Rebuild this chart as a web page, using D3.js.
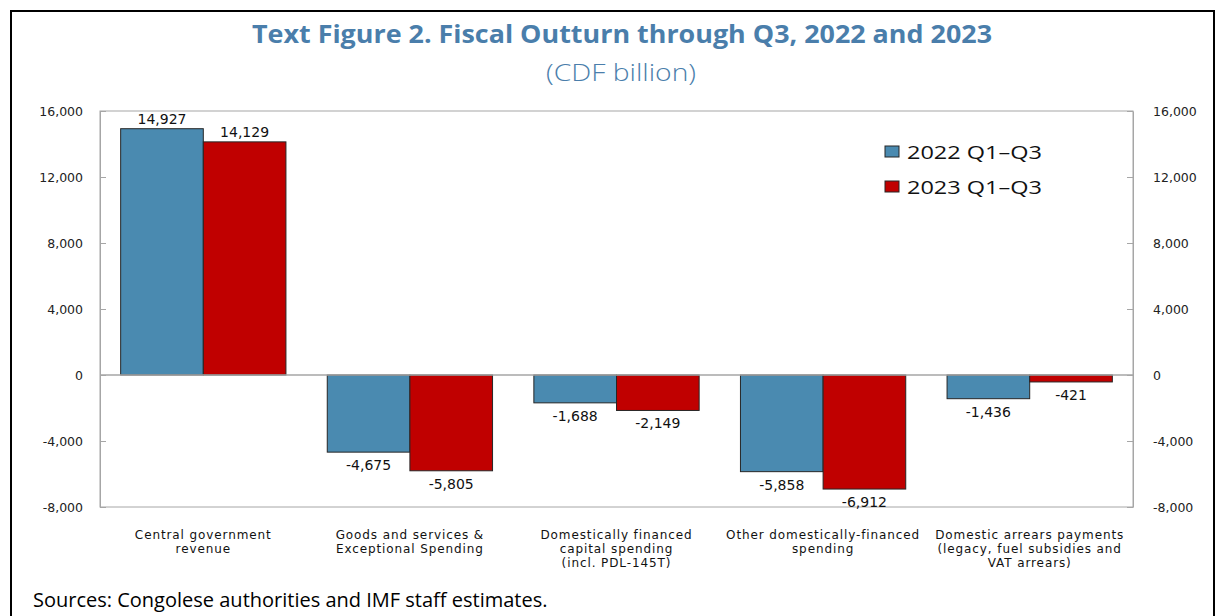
<!DOCTYPE html>
<html>
<head>
<meta charset="utf-8">
<script src="https://cdn.jsdelivr.net/npm/d3@7"></script>
<style>
  html, body { margin: 0; padding: 0; background: #fff; }
  svg { display: block; }
</style>
</head>
<body>
<svg id="chart" width="1217" height="616"></svg>
<script>
// Fiscal outturn, CDF billion
const categories = [
  ["Central government", "revenue"],
  ["Goods and services &", "Exceptional Spending"],
  ["Domestically financed", "capital spending", "(incl. PDL-145T)"],
  ["Other domestically-financed", "spending"],
  ["Domestic arrears payments", "(legacy, fuel subsidies and", "VAT arrears)"]
];
const seriesNames = ["2022 Q1\u2013Q3", "2023 Q1\u2013Q3"];
const values2022 = [14927, -4675, -1688, -5858, -1436];
const values2023 = [14129, -5805, -2149, -6912, -421];
const tickValues = [-8000, -4000, 0, 4000, 8000, 12000, 16000];
const colors = ["#4a8ab0", "#c00000"];

const svg = d3.select("#chart");
const margin = { left: 100, right: 1133, top: 111, bottom: 507 };
const titleColor = "#4a7eab";

// outer frame
svg.append("rect")
  .attr("x", 11).attr("y", 11).attr("width", 1203).attr("height", 640)
  .attr("fill", "none").attr("stroke", "#000").attr("stroke-width", 2);

// titles
svg.append("text")
  .attr("x", 622).attr("y", 43)
  .attr("text-anchor", "middle")
  .attr("font-family", "'Open Sans', sans-serif")
  .attr("font-weight", 700).attr("font-size", 25)
  .attr("textLength", 740).attr("lengthAdjust", "spacingAndGlyphs")
  .attr("fill", titleColor)
  .text("Text Figure 2. Fiscal Outturn through Q3, 2022 and 2023");
svg.append("text")
  .attr("x", 621).attr("y", 81)
  .attr("text-anchor", "middle")
  .attr("font-family", "'Open Sans', sans-serif")
  .attr("font-weight", 300).attr("font-size", 23)
  .attr("textLength", 150).attr("lengthAdjust", "spacingAndGlyphs")
  .attr("fill", titleColor)
  .text("(CDF billion)");

const x = d3.scaleBand()
  .domain(d3.range(categories.length))
  .range([margin.left, margin.right])
  .paddingInner(0.2).paddingOuter(0.1);
const x1 = d3.scaleBand()
  .domain(d3.range(seriesNames.length))
  .range([0, x.bandwidth()]);
const y = d3.scaleLinear()
  .domain([-8000, 16000])
  .range([margin.bottom, margin.top]);

// plot frame
svg.append("rect")
  .attr("x", margin.left).attr("y", margin.top)
  .attr("width", margin.right - margin.left)
  .attr("height", margin.bottom - margin.top)
  .attr("fill", "none").attr("stroke", "#a6a6a6").attr("stroke-width", 1);

// axes (ticks pointing into the plot); plain hyphen for negatives
const fmt = v => d3.format(",")(v).replace("\u2212", "-");
const leftAxis = d3.axisLeft(y).tickValues(tickValues).tickFormat(fmt)
  .tickSizeInner(-6).tickSizeOuter(0).tickPadding(17);
const rightAxis = d3.axisRight(y).tickValues(tickValues).tickFormat(fmt)
  .tickSizeInner(-6).tickSizeOuter(0).tickPadding(20);

function styleAxis(g) {
  g.select(".domain").attr("stroke", "#a6a6a6");
  g.selectAll(".tick line").attr("stroke", "#a6a6a6");
  g.selectAll(".tick text")
    .attr("font-family", "'DejaVu Sans', sans-serif")
    .attr("font-size", 12.5).attr("fill", "#222");
}
svg.append("g").attr("transform", `translate(${margin.left},0)`).call(leftAxis).call(styleAxis);
svg.append("g").attr("transform", `translate(${margin.right},0)`).call(rightAxis).call(styleAxis);

// bars
const series = [values2022, values2023];
series.forEach((vals, s) => {
  const g = svg.append("g");
  g.selectAll("rect").data(vals).join("rect")
    .attr("x", (d, i) => x(i) + x1(s))
    .attr("width", x1.bandwidth())
    .attr("y", d => y(Math.max(0, d)))
    .attr("height", d => Math.abs(y(d) - y(0)))
    .attr("fill", colors[s])
    .attr("stroke", "#262626").attr("stroke-width", 1);
  g.selectAll("text").data(vals).join("text")
    .attr("x", (d, i) => x(i) + x1(s) + x1.bandwidth() / 2)
    .attr("y", d => d >= 0 ? y(d) - 5 : y(d) + 18)
    .attr("text-anchor", "middle")
    .attr("font-family", "'DejaVu Sans', sans-serif")
    .attr("font-size", 14).attr("fill", "#111")
    .text(d => fmt(d));
});

// zero line
svg.append("line")
  .attr("x1", margin.left).attr("x2", margin.right)
  .attr("y1", y(0)).attr("y2", y(0))
  .attr("stroke", "#a6a6a6").attr("stroke-width", 1.5);

// category labels, one text per line
categories.forEach((lines, i) => {
  lines.forEach((ln, k) => {
    svg.append("text")
      .attr("text-anchor", "middle")
      .attr("font-family", "'DejaVu Sans', sans-serif")
      .attr("font-size", 12).attr("fill", "#111")
      .attr("letter-spacing", 0.9)
      .attr("x", x(i) + x.bandwidth() / 2)
      .attr("y", 539 + k * 14)
      .text(ln);
  });
});

// legend
const legend = svg.append("g");
seriesNames.forEach((name, s) => {
  const yy = 152 + s * 35;
  legend.append("rect")
    .attr("x", 885).attr("y", yy - 6).attr("width", 14).attr("height", 11)
    .attr("fill", colors[s]).attr("stroke", "#262626");
  legend.append("text")
    .attr("x", 907).attr("y", yy + 7)
    .attr("font-family", "'Open Sans', sans-serif")
    .attr("font-size", 18).attr("fill", "#111")
    .attr("textLength", 135).attr("lengthAdjust", "spacingAndGlyphs")
    .text(name);
});

// source note
svg.append("text")
  .attr("x", 33).attr("y", 607)
  .attr("font-family", "'Open Sans', sans-serif")
  .attr("font-size", 20).attr("fill", "#000")
  .text("Sources: Congolese authorities and IMF staff estimates.");
</script>
</body>
</html>
